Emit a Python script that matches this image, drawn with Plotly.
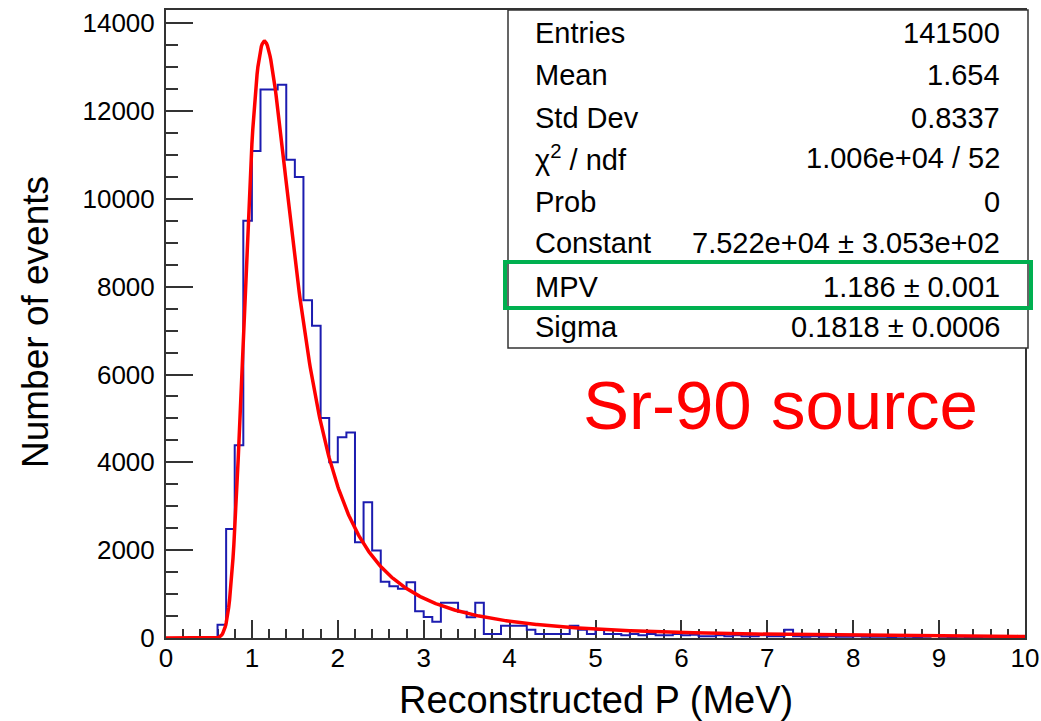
import numpy as np
import plotly.graph_objects as go

# Histogram: 100 bins of 0.1 MeV between 0 and 10 MeV
x_min, x_max, n_bins = 0.0, 10.0, 100
counts = [
    0, 0, 0, 0, 0, 0, 300, 2480, 4390, 9500,
    11090, 12490, 12490, 12600, 10890, 10500, 7690, 7110, 5010, 4000,
    4570, 4680, 2180, 3090, 1990, 1280, 1180, 1120, 1270, 610,
    480, 370, 800, 800, 600, 470, 800, 90, 90, 280,
    280, 280, 190, 90, 90, 90, 90, 280, 190, 90,
    190, 90, 90, 60, 90, 60, 90, 60, 60, 90,
    60, 75, 40, 40, 60, 40, 60, 40, 40, 60,
    40, 40, 190, 40, 30, 40, 30, 40, 30, 30,
    40, 30, 30, 30, 20, 30, 30, 20, 30, 70,
    30, 20, 30, 20, 20, 30, 20, 20, 20, 20,
]

# Landau fit parameters
fit_constant = 7.522e4
fit_mpv = 1.186
fit_sigma = 0.1818

stats_labels = ["Entries", "Mean", "Std Dev", "χ<sup>2</sup> / ndf", "Prob",
                "Constant", "MPV", "Sigma"]
stats_values = ["141500", "1.654", "0.8337", "1.006e+04 / 52", "0",
                "7.522e+04 ± 3.053e+02", "1.186 ± 0.001", "0.1818 ± 0.0006"]

x_ticks = list(range(0, 11))
y_ticks = list(range(0, 14001, 2000))
y_tick_text = [str(v) for v in y_ticks]


def landau_pdf(lam):
    """Standard Landau density via its Fourier integral."""
    t = np.linspace(1e-9, 40.0, 40001)
    damp = np.exp(-np.pi * t / 2.0)
    tlt = t * np.log(t)
    out = np.empty_like(lam)
    for i, l in enumerate(lam):
        out[i] = np.trapezoid(damp * np.cos(tlt + t * l), t) / np.pi
    return np.clip(out, 0.0, None)


edges = np.linspace(x_min, x_max, n_bins + 1)
step_y = list(counts) + [counts[-1]]

fx = np.linspace(x_min, x_max, 1001)
fy = fit_constant * landau_pdf((fx - fit_mpv) / fit_sigma)

# Plot frame in pixels
W, H = 1041, 721
L, R, T, B = 166, 1025, 10, 638
y_top = 14300


def px(xp):
    return (xp - L) / (R - L)


def py(yp):
    return (B - yp) / (B - T)


fig = go.Figure()
fig.add_trace(go.Scatter(
    x=edges, y=step_y, mode="lines", line=dict(shape="hv", color="#1c1cb0", width=2),
    hoverinfo="skip", showlegend=False))
fig.add_trace(go.Scatter(
    x=fx, y=fy, mode="lines", line=dict(color="#ff0000", width=3.5),
    hoverinfo="skip", showlegend=False))

font = "Liberation Sans, Arial, Helvetica, sans-serif"
axis_common = dict(
    showgrid=False, zeroline=False, showline=True, linecolor="#333333", linewidth=2,
    mirror=True, ticks="inside", tickcolor="#333333", tickwidth=1.5, automargin=False,
    tickfont=dict(family=font, size=26, color="black"), layer="below traces",
)

fig.update_xaxes(
    range=[x_min, x_max], tickvals=x_ticks, ticklen=18, ticklabelstandoff=-4,
    minor=dict(ticks="inside", dtick=0.2, ticklen=9, tickcolor="#333333", tickwidth=1.5),
    **axis_common)
fig.update_yaxes(
    range=[0, y_top], tickvals=y_ticks, ticktext=y_tick_text, ticklen=27,
    minor=dict(ticks="inside", dtick=500, ticklen=12, tickcolor="#333333", tickwidth=1.5),
    ticklabelstandoff=4,
    **axis_common)

shapes = []
annotations = []

# Statistics box
shapes.append(dict(type="rect", xref="paper", yref="paper",
                   x0=px(508), x1=px(1028), y0=py(348), y1=py(10),
                   line=dict(color="#333333", width=1.5), fillcolor="white", layer="above"))
row_y = [33, 75, 118, 158, 202, 243, 287, 327]
for lab, val, yp in zip(stats_labels, stats_values, row_y):
    annotations.append(dict(xref="paper", yref="paper", x=px(533), y=py(yp),
                            text=lab, showarrow=False, xanchor="left", yanchor="middle",
                            font=dict(family=font, size=29, color="black")))
    annotations.append(dict(xref="paper", yref="paper", x=px(1002), y=py(yp),
                            text=val, showarrow=False, xanchor="right", yanchor="middle",
                            font=dict(family=font, size=29, color="black")))

# Highlight around the MPV row
shapes.append(dict(type="rect", xref="paper", yref="paper",
                   x0=px(505), x1=px(1031), y0=py(308), y1=py(262),
                   line=dict(color="#00b050", width=4), layer="above"))

annotations.append(dict(xref="paper", yref="paper", x=px(780), y=py(405),
                        text="Sr-90 source", showarrow=False, xanchor="center",
                        yanchor="middle", font=dict(family=font, size=69, color="#ff0000")))

# Axis titles
annotations.append(dict(xref="paper", yref="paper", x=px(596), y=py(700),
                        text="Reconstructed P (MeV)", showarrow=False, xanchor="center",
                        yanchor="middle", font=dict(family=font, size=38, color="black")))
annotations.append(dict(xref="paper", yref="paper", x=px(35), y=py(322),
                        text="Number of events", showarrow=False, textangle=-90,
                        xanchor="center", yanchor="middle",
                        font=dict(family=font, size=37, color="black")))

fig.update_layout(
    width=W, height=H,
    margin=dict(l=L, r=W - R, t=T, b=H - B, autoexpand=False),
    paper_bgcolor="white", plot_bgcolor="white",
    shapes=shapes, annotations=annotations, showlegend=False,
)

fig.write_html("out.html")
